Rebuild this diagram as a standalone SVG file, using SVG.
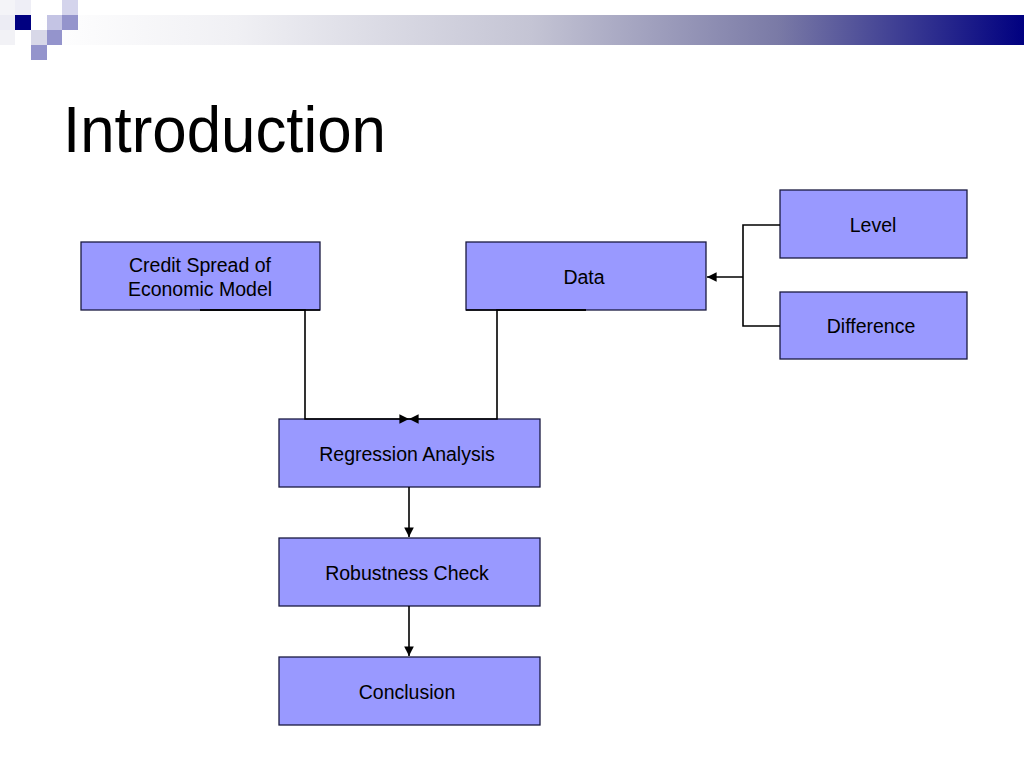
<svg xmlns="http://www.w3.org/2000/svg" width="1024" height="768" viewBox="0 0 1024 768">
<style>
.box{fill:#9999FF;stroke:#1a1a40;stroke-width:1.3}
.lbl{font-family:"Liberation Sans",Arial,sans-serif;font-size:19.5px;fill:#000;text-anchor:middle}
.con{fill:none;stroke:#000;stroke-width:1.6}
</style>
<defs>
<linearGradient id="bar" x1="0" y1="0" x2="1" y2="0">
<stop offset="0" stop-color="#ffffff"/>
<stop offset="0.2" stop-color="#f0f0f4"/>
<stop offset="0.5" stop-color="#c4c4d4"/>
<stop offset="0.75" stop-color="#7a7aa6"/>
<stop offset="1" stop-color="#000080"/>
</linearGradient>
<marker id="arr" viewBox="0 0 10 10" refX="10" refY="5" markerWidth="6" markerHeight="6" orient="auto" markerUnits="strokeWidth">
<path d="M0,0 L10,5 L0,10 z" fill="#000"/>
</marker>
</defs>
<rect width="1024" height="768" fill="#fff"/>
<g id="header">
<rect x="40" y="15" width="984" height="30" fill="url(#bar)"/>
<rect x="0" y="0" width="15" height="15" fill="#f4f4f8"/>
<rect x="15" y="0" width="16" height="15" fill="#eeeef6"/>
<rect x="62" y="0" width="16" height="15" fill="#d4d4ec"/>
<rect x="0" y="15" width="15" height="15" fill="#ececf4"/>
<rect x="15" y="15" width="16" height="15" fill="#000080"/>
<rect x="47" y="15" width="15" height="15" fill="#c4c4e4"/>
<rect x="62" y="15" width="16" height="15" fill="#9494cc"/>
<rect x="0" y="30" width="15" height="15" fill="#f2f2f6"/>
<rect x="31" y="30" width="16" height="15" fill="#d8d8e8"/>
<rect x="47" y="30" width="15" height="15" fill="#9494cc"/>
<rect x="31" y="45" width="16" height="15" fill="#9494cc"/>
</g>
<text x="63" y="152" font-family="Liberation Sans,Arial,sans-serif" font-size="65" textLength="323" lengthAdjust="spacingAndGlyphs" fill="#000">Introduction</text>
<g id="credit">
<rect class="box" x="81" y="242" width="239" height="68"/>
<text class="lbl" x="200" y="272">Credit Spread of</text>
<text class="lbl" x="200" y="296">Economic Model</text>
</g>
<g id="data">
<rect class="box" x="466" y="242" width="240" height="68"/>
<text class="lbl" x="584" y="284">Data</text>
</g>
<g id="level">
<rect class="box" x="780" y="190" width="187" height="68"/>
<text class="lbl" x="873" y="232">Level</text>
</g>
<g id="difference">
<rect class="box" x="780" y="292" width="187" height="67"/>
<text class="lbl" x="871" y="333">Difference</text>
</g>
<g id="regression">
<rect class="box" x="279" y="419" width="261" height="68"/>
<text class="lbl" x="407" y="461">Regression Analysis</text>
</g>
<g id="robustness">
<rect class="box" x="279" y="538" width="261" height="68"/>
<text class="lbl" x="407" y="580">Robustness Check</text>
</g>
<g id="conclusion">
<rect class="box" x="279" y="657" width="261" height="68"/>
<text class="lbl" x="407" y="699">Conclusion</text>
</g>
<g id="connectors">
<path class="con" d="M200,310 H320 M466,310 H586"/>
<path class="con" d="M200,310 H305 V419 H409" marker-end="url(#arr)"/>
<path class="con" d="M586,310 H497 V419 H409" marker-end="url(#arr)"/>
<path class="con" d="M780,225 H743 V326 H780"/>
<path class="con" d="M743,277 H707" marker-end="url(#arr)"/>
<path class="con" d="M409,487 V537" marker-end="url(#arr)"/>
<path class="con" d="M409,606 V656" marker-end="url(#arr)"/>
</g>
</svg>
